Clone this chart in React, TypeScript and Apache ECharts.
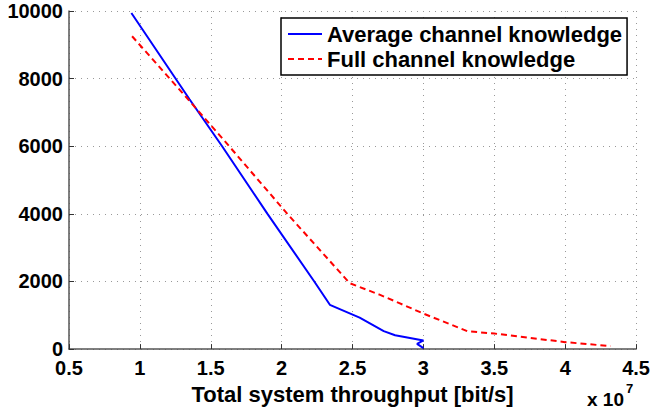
import React, { useEffect, useRef } from "react";
import * as echarts from "echarts";

// x values in units of 10^7 bit/s
const avgX = [0.94, 1.35, 1.58, 1.9, 2.23, 2.34, 2.55, 2.72, 2.8, 3.0, 2.955, 3.0];
const avgY = [9940, 7390, 6000, 4000, 2000, 1310, 930, 530, 410, 255, 155, 30];
const fullX = [0.945, 1.34, 1.63, 2.04, 2.48, 2.69, 2.83, 3.0, 3.31, 3.5, 4.0, 4.32];
const fullY = [9253, 7390, 6000, 4000, 1950, 1610, 1360, 1050, 530, 460, 206, 88];
const seriesNames = ["Average channel knowledge", "Full channel knowledge"];
const xAxisTitle = "Total system throughput [bit/s]";
const xScaleBase = "x 10";
const xScaleExp = "7";

const FONT = "'Liberation Sans', Arial, Helvetica, sans-serif";

export default function App() {
  const ref = useRef<HTMLDivElement>(null);
  useEffect(() => {
    if (!ref.current) return;
    const chart = echarts.init(ref.current, null, { renderer: "svg" });
    const zip = (xs: number[], ys: number[]) => xs.map((x, i) => [x, ys[i]]);
    chart.setOption({
      animation: false,
      backgroundColor: "#ffffff",
      grid: { left: 69, top: 11, width: 569, height: 340 },
      xAxis: {
        type: "value",
        min: 0.5,
        max: 4.5,
        interval: 0.5,
        name: xAxisTitle,
        nameLocation: "middle",
        nameGap: 26,
        nameTextStyle: { fontFamily: FONT, fontWeight: "bold", fontSize: 22, color: "#000" },
        axisLine: { show: true, lineStyle: { color: "#555", width: 1.5 } },
        axisTick: { show: true, inside: true, length: 5, lineStyle: { color: "#333" } },
        axisLabel: {
          fontFamily: FONT, fontWeight: "bold", fontSize: 20, color: "#000", margin: 9,
          formatter: (v: number) => String(v),
        },
        splitLine: { show: true, lineStyle: { color: "#999", type: [1, 5], width: 1 } },
      },
      yAxis: {
        type: "value",
        min: 0,
        max: 10000,
        interval: 2000,
        axisLine: { show: true, lineStyle: { color: "#555", width: 1.5 } },
        axisTick: { show: true, inside: true, length: 5, lineStyle: { color: "#333" } },
        axisLabel: {
          fontFamily: FONT, fontWeight: "bold", fontSize: 20, color: "#000", margin: 6,
          formatter: (v: number) => String(v),
        },
        splitLine: { show: true, lineStyle: { color: "#999", type: [1, 5], width: 1 } },
      },
      legend: {
        orient: "vertical",
        left: 281,
        top: 18,
        backgroundColor: "#fff",
        borderColor: "#000",
        borderWidth: 1.5,
        borderRadius: 0,
        padding: [5, 5, 5, 6],
        itemGap: 3,
        itemWidth: 34,
        itemHeight: 14,
        itemStyle: { opacity: 0 },
        textStyle: { fontFamily: FONT, fontWeight: "bold", fontSize: 22, color: "#000" },
        data: seriesNames,
      },
      series: [
        {
          name: seriesNames[0],
          type: "line",
          data: zip(avgX, avgY),
          showSymbol: false,
          symbol: "none",
          lineStyle: { color: "#0000ff", width: 2 },
          itemStyle: { color: "#0000ff" },
        },
        {
          name: seriesNames[1],
          type: "line",
          data: zip(fullX, fullY),
          showSymbol: false,
          symbol: "none",
          lineStyle: { color: "#ff0000", width: 2, type: [6, 4] },
          itemStyle: { color: "#ff0000" },
        },
      ],
      graphic: [
        {
          type: "text",
          x: 587,
          y: 399,
          style: {
            text: xScaleBase,
            font: "bold 19px 'Liberation Sans', Arial, sans-serif",
            fill: "#000",
            verticalAlign: "middle", align: "left",
          },
        },
        {
          type: "text",
          x: 626,
          y: 388,
          style: {
            text: xScaleExp,
            font: "bold 13px 'Liberation Sans', Arial, sans-serif",
            fill: "#000",
            verticalAlign: "middle", align: "left",
          },
        },
      ],
    });
    return () => chart.dispose();
  }, []);
  return (
    <div
      ref={ref}
      style={{ position: "absolute", left: 0, top: 0, width: 653, height: 410 }}
    />
  );
}
